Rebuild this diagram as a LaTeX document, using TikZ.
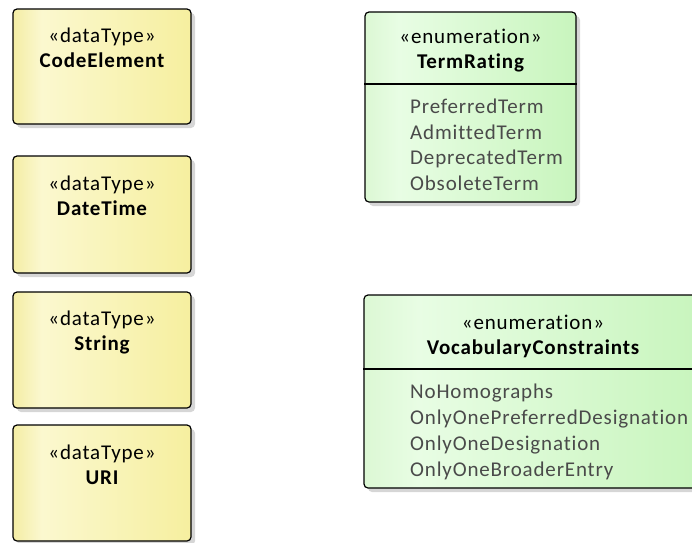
\documentclass[tikz,border=0pt]{standalone}
\usepackage{fontspec}
\setmainfont[LetterSpace=4, Ligatures={NoCommon}]{Carlito}
\usetikzlibrary{shadows}
\definecolor{yA}{HTML}{F4EDA4}
\definecolor{yB}{HTML}{FBF8CF}
\definecolor{yC}{HTML}{F6EF9F}
\definecolor{gA}{HTML}{DCF8D4}
\definecolor{gB}{HTML}{E8FDE4}
\definecolor{gC}{HTML}{C8F5BD}
\definecolor{itemgray}{HTML}{4A4A4A}
\definecolor{shadowgray}{HTML}{D6D6D6}
\pgfdeclarehorizontalshading{yshade}{100bp}{color(0bp)=(yA); color(25bp)=(yA); color(33bp)=(yB); color(75bp)=(yC); color(100bp)=(yC)}
\pgfdeclarehorizontalshading{gshade}{100bp}{color(0bp)=(gA); color(25bp)=(gA); color(33bp)=(gB); color(75bp)=(gC); color(100bp)=(gC)}
\tikzset{
  umlbox/.style={draw=black, line width=1.2pt, rounded corners=4pt, inner sep=0pt,
    drop shadow={shadow xshift=4pt, shadow yshift=-4pt, fill=shadowgray, opacity=1}},
  dtbox/.style={umlbox, shading=yshade, minimum width=178pt},
  enbox/.style={umlbox, shading=gshade},
  stereo/.style={anchor=base, font=\fontsize{21}{25}\selectfont, inner sep=0pt},
  cname/.style={anchor=base, font=\fontsize{21}{25}\selectfont\bfseries, inner sep=0pt},
  item/.style={anchor=base west, font=\fontsize{21}{25}\selectfont, text=itemgray, inner sep=0pt},
  divider/.style={draw=black, line width=1.2pt}
}
\begin{document}
\begin{tikzpicture}[x=1pt, y=-1pt]
\useasboundingbox (0,0) rectangle (692,542);
\clip (0,0) rectangle (692,542);
% data types
\node[dtbox, minimum height=115pt] (code) at (102,66.5) {};
\node[stereo] (codeS) at (102,42) {«dataType»};
\node[cname] (codeN) at (102,67) {CodeElement};

\node[dtbox, minimum height=117pt] (dt) at (102,214.5) {};
\node[stereo] (dtS) at (102,190) {«dataType»};
\node[cname] (dtN) at (102,215) {DateTime};

\node[dtbox, minimum height=116pt] (str) at (102,350) {};
\node[stereo] (strS) at (102,325) {«dataType»};
\node[cname] (strN) at (102,350) {String};

\node[dtbox, minimum height=116pt] (uri) at (102,483) {};
\node[stereo] (uriS) at (102,459) {«dataType»};
\node[cname] (uriN) at (102,484) {URI};

% TermRating
\node[enbox, minimum width=211pt, minimum height=190pt] (term) at (470.5,107) {};
\draw[divider] (term.west |- 0,84) coordinate (termdl) -- (term.east |- 0,84) coordinate (termdr);
\node[stereo] (termS) at (470.5,43) {«enumeration»};
\node[cname] (termN) at (470.5,68) {TermRating};
\node[item] (t1) at (410,113.5) {PreferredTerm};
\node[item] (t2) at (410,139) {AdmittedTerm};
\node[item] (t3) at (410,164.5) {DeprecatedTerm};
\node[item] (t4) at (410,190) {ObsoleteTerm};

% VocabularyConstraints
\node[enbox, minimum width=338pt, minimum height=193pt] (voc) at (533,391.5) {};
\draw[divider] (voc.west |- 0,369) coordinate (vocdl) -- (voc.east |- 0,369) coordinate (vocdr);
\node[stereo] (vocS) at (533,329) {«enumeration»};
\node[cname] (vocN) at (533,354) {VocabularyConstraints};
\node[item] (v1) at (410,398) {NoHomographs};
\node[item] (v2) at (410,424) {OnlyOnePreferredDesignation};
\node[item] (v3) at (410,450) {OnlyOneDesignation};
\node[item] (v4) at (410,476) {OnlyOneBroaderEntry};
\end{tikzpicture}
\end{document}
